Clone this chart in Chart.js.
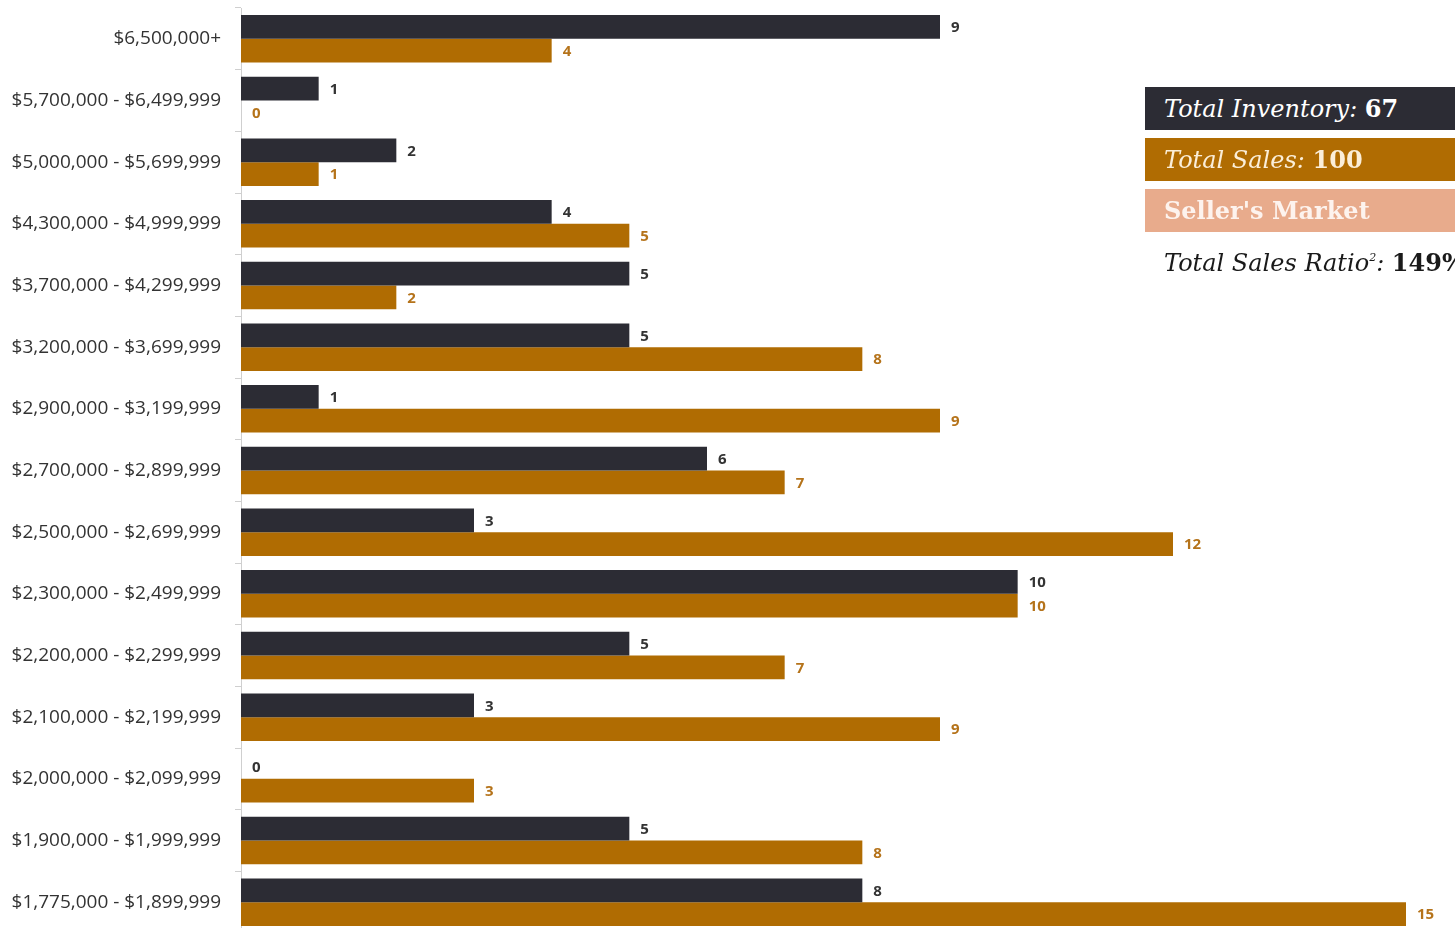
<!DOCTYPE html>
<html lang="en">
<head>
    <meta charset="UTF-8">
    <title>Inventory vs Sales</title>
    <script src="https://cdn.jsdelivr.net/npm/chart.js"></script>
    <style>
        html, body { margin: 0; padding: 0; background: #fff; overflow: hidden; }
        .wrap { position: relative; width: 1455px; height: 940px; }
        #grafico { position: absolute; left: 0; top: 0; }
        .caixa {
            position: absolute; left: 1145px; width: 310px; height: 43px;
            font-family: "DejaVu Serif", serif; font-size: 24px; line-height: 43px;
            color: #fff; padding-left: 19px; box-sizing: border-box; white-space: nowrap; overflow: hidden;
        }
        .caixa i { font-weight: normal; }
        .inv { top: 87px; background: #2c2c34; }
        .ven { top: 138px; background: #b06c02; color: #fbeed8; }
        .mkt { top: 189px; background: #e8ab8c; font-weight: bold; color: #fdf3ee; }
        .ratio { top: 236px; background: none; color: #1a1a1a; }
        sup { font-size: 11px; vertical-align: 10px; }
    </style>
</head>
<body>
<div class="wrap">
    <canvas id="grafico" width="1455" height="940"></canvas>
    <div class="caixa inv"><i>Total Inventory:</i> <b>67</b></div>
    <div class="caixa ven"><i>Total Sales:</i> <b>100</b></div>
    <div class="caixa mkt">Seller's Market</div>
    <div class="caixa ratio"><i>Total Sales Ratio<sup>2</sup>:</i> <b>149%</b></div>
</div>
<script>
    const faixas = [
        '$6,500,000+',
        '$5,700,000 - $6,499,999',
        '$5,000,000 - $5,699,999',
        '$4,300,000 - $4,999,999',
        '$3,700,000 - $4,299,999',
        '$3,200,000 - $3,699,999',
        '$2,900,000 - $3,199,999',
        '$2,700,000 - $2,899,999',
        '$2,500,000 - $2,699,999',
        '$2,300,000 - $2,499,999',
        '$2,200,000 - $2,299,999',
        '$2,100,000 - $2,199,999',
        '$2,000,000 - $2,099,999',
        '$1,900,000 - $1,999,999',
        '$1,775,000 - $1,899,999'
    ];
    const inventario = [9, 1, 2, 4, 5, 5, 1, 6, 3, 10, 5, 3, 0, 5, 8];
    const vendas = [4, 0, 1, 5, 2, 8, 9, 7, 12, 10, 7, 9, 3, 8, 15];

    const corInv = '#2c2c34';
    const corVen = '#b06c02';

    // escreve o valor no fim de cada barra
    const rotulos = {
        id: 'rotulos',
        afterDatasetsDraw(chart) {
            const ctx = chart.ctx;
            ctx.save();
            ctx.font = 'bold 15px "Open Sans", sans-serif';
            ctx.textBaseline = 'middle';
            ctx.textAlign = 'left';
            chart.data.datasets.forEach((ds, i) => {
                const meta = chart.getDatasetMeta(i);
                ctx.fillStyle = i === 0 ? '#333333' : '#b5731a';
                meta.data.forEach((bar, j) => {
                    ctx.fillText(ds.data[j], bar.x + 11, bar.y + 1);
                });
            });
            ctx.restore();
        }
    };

    new Chart(document.getElementById('grafico'), {
        type: 'bar',
        data: {
            labels: faixas,
            datasets: [{
                label: 'Inventory',
                data: inventario,
                backgroundColor: corInv,
                categoryPercentage: 0.77,
                barPercentage: 1.0
            }, {
                label: 'Sales',
                data: vendas,
                backgroundColor: corVen,
                categoryPercentage: 0.77,
                barPercentage: 1.0
            }]
        },
        options: {
            indexAxis: 'y',
            responsive: false,
            animation: false,
            layout: { padding: { top: 8, right: 49, bottom: 7, left: 0 } },
            plugins: {
                legend: { display: false },
                tooltip: { enabled: false }
            },
            scales: {
                x: { display: false, min: 0, max: 15 },
                y: {
                    afterFit: (axis) => {
                        axis.width = 241;
                        axis.paddingTop = 0;
                        axis.paddingBottom = 0;
                    },
                    grid: { drawOnChartArea: false, tickLength: 6, color: '#cfcfcf', offset: true },
                    border: { color: '#cfcfcf' },
                    ticks: {
                        color: '#333333',
                        padding: 14,
                        font: { family: '"Open Sans", sans-serif', size: 19 }
                    }
                }
            }
        },
        plugins: [rotulos]
    });
</script>
</body>
</html>
